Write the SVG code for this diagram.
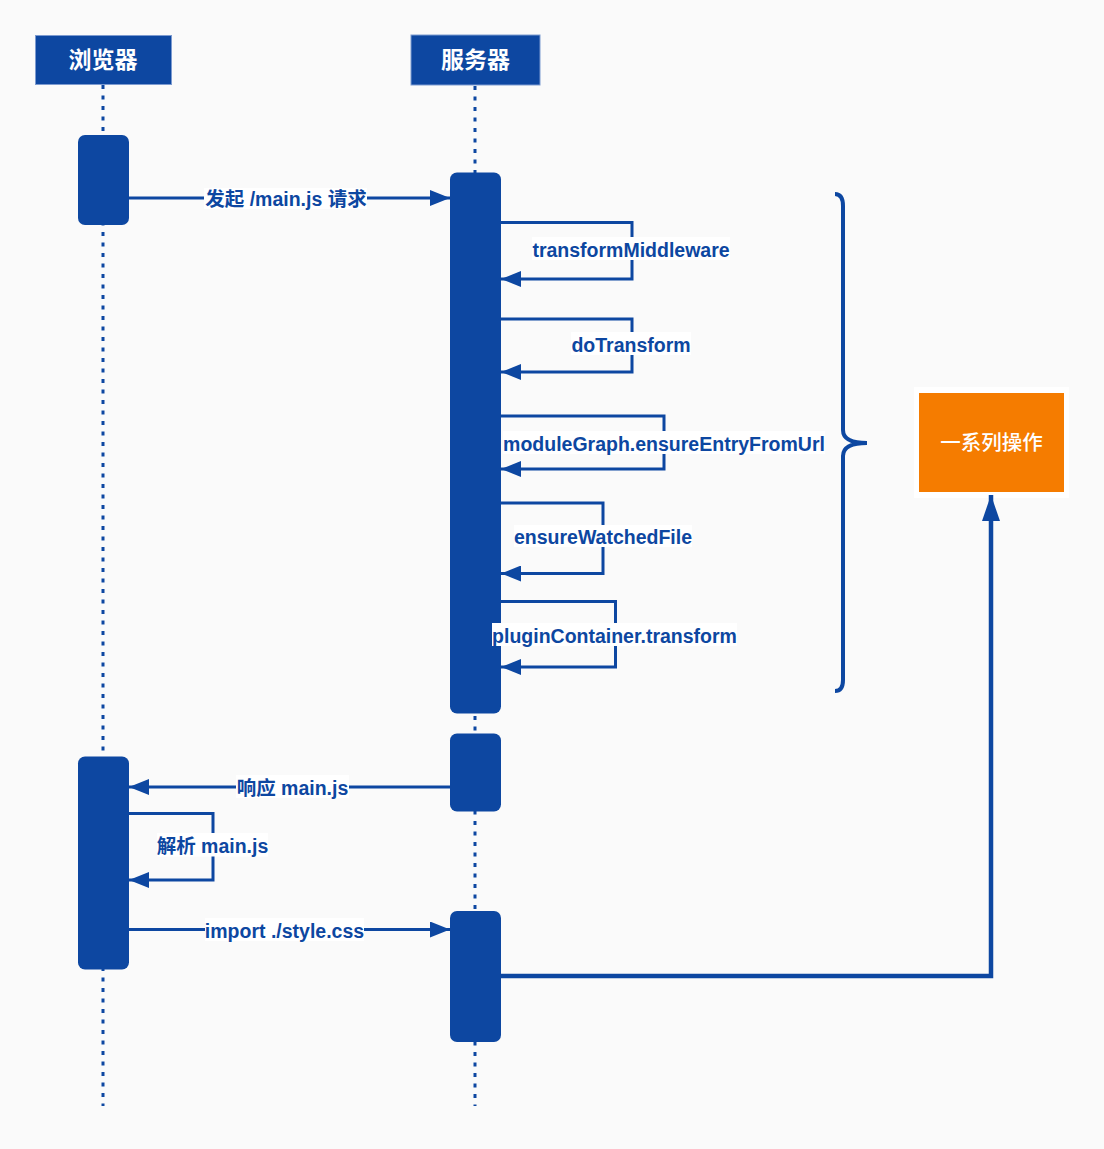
<svg xmlns="http://www.w3.org/2000/svg" width="1104" height="1149" viewBox="0 0 1104 1149">
<defs>
<marker id="ah" viewBox="0 0 20 16" refX="20" refY="8" markerWidth="20" markerHeight="16" markerUnits="userSpaceOnUse" orient="auto"><path d="M0,0 L20,8 L0,16 z" fill="#0d47a1"/></marker>
<marker id="ah2" viewBox="0 0 26 18" refX="26" refY="9" markerWidth="26" markerHeight="18" markerUnits="userSpaceOnUse" orient="auto"><path d="M0,0 L26,9 L0,18 z" fill="#0d47a1"/></marker>
</defs>
<style>
.hdr{fill:#0d47a1;stroke:#7d9bd0;stroke-width:1}
.hdrt{fill:#ffffff;font-family:"Liberation Sans","Noto Sans CJK SC",sans-serif;font-weight:bold;font-size:23px;text-anchor:middle}
.life{stroke:#0d47a1;stroke-width:3;stroke-dasharray:4 6.5;fill:none}
.act{fill:#0d47a1}
.ln{stroke:#0d47a1;stroke-width:3;fill:none}
.lbg{fill:#ffffff}
.lbl{fill:#0d47a1;font-family:"Liberation Sans","Noto Sans CJK SC",sans-serif;font-weight:bold;font-size:19.5px;text-anchor:middle}
</style>
<rect x="0" y="0" width="1104" height="1149" fill="#fafafa"/>
<g id="lifelines">
<line class="life" x1="103" y1="85" x2="103" y2="1106"/>
<line class="life" x1="475" y1="86" x2="475" y2="1106"/>
</g>
<g id="browser-header"><rect class="hdr" x="35.5" y="35.5" width="136" height="49"/><text class="hdrt" x="103" y="68">浏览器</text></g>
<g id="server-header"><rect class="hdr" x="411" y="35" width="129" height="50"/><text class="hdrt" x="475.5" y="68">服务器</text></g>
<g id="browser-act1"><rect class="act" x="78" y="135" width="51" height="90" rx="7"/></g>
<g id="server-act1"><rect class="act" x="450" y="172.5" width="51" height="541" rx="7"/></g>
<g id="server-act2"><rect class="act" x="450" y="733.5" width="51" height="78" rx="7"/></g>
<g id="browser-act2"><rect class="act" x="78" y="756.5" width="51" height="213" rx="7"/></g>
<g id="server-act3"><rect class="act" x="450" y="911" width="51" height="131" rx="7"/></g>
<g id="brace"><path d="M835,194 Q843,194 843,206 L843,430 Q843,443 867,443 Q843,443 843,456 L843,680 Q843,691 835,691" fill="none" stroke="#0d47a1" stroke-width="4"/></g>
<g id="ops-box"><rect x="914" y="387" width="155" height="111" fill="#ffffff"/><rect x="919" y="393" width="145" height="99" fill="#f57c00"/><text x="991.5" y="450" fill="#ffffff" font-family="'Noto Sans CJK SC',sans-serif" font-weight="500" font-size="20.5px" text-anchor="middle">一系列操作</text></g>
<g id="connectors">
<line class="ln" x1="129" y1="198" x2="450" y2="198" marker-end="url(#ah)"/>
<path class="ln" d="M501,222.5 H632 V279 H501" marker-end="url(#ah)"/>
<path class="ln" d="M501,319 H632 V372 H501" marker-end="url(#ah)"/>
<path class="ln" d="M501,416 H664 V469 H501" marker-end="url(#ah)"/>
<path class="ln" d="M501,503 H603 V573.5 H501" marker-end="url(#ah)"/>
<path class="ln" d="M501,601.5 H615.5 V667 H501" marker-end="url(#ah)"/>
<line class="ln" x1="450" y1="787" x2="129" y2="787" marker-end="url(#ah)"/>
<path class="ln" d="M129,813.5 H213 V880 H129" marker-end="url(#ah)"/>
<line class="ln" x1="129" y1="929.5" x2="450" y2="929.5" marker-end="url(#ah)"/>
<path d="M501,976 H991 V495" fill="none" stroke="#0d47a1" stroke-width="4.5" marker-end="url(#ah2)"/>
<g id="labels">
<rect class="lbg" x="204" y="188" width="163" height="21"/><text class="lbl" x="286" y="206">发起 /main.js 请求</text>
<rect class="lbg" x="532" y="237" width="198" height="23"/><text class="lbl" x="631" y="257">transformMiddleware</text>
<rect class="lbg" x="571" y="332" width="120" height="23"/><text class="lbl" x="631" y="351.5">doTransform</text>
<rect class="lbg" x="503" y="431" width="322" height="23"/><text class="lbl" x="664" y="451">moduleGraph.ensureEntryFromUrl</text>
<rect class="lbg" x="514" y="525" width="178" height="22"/><text class="lbl" x="603" y="544">ensureWatchedFile</text>
<rect class="lbg" x="492" y="623" width="245" height="23"/><text class="lbl" x="614.5" y="643">pluginContainer.transform</text>
<rect class="lbg" x="236" y="775" width="113" height="23"/><text class="lbl" x="292.5" y="795">响应 main.js</text>
<rect class="lbg" x="157" y="833" width="111" height="23.5"/><text class="lbl" x="212.5" y="853">解析 main.js</text>
<rect class="lbg" x="205" y="918" width="159" height="23"/><text class="lbl" x="284.5" y="938">import ./style.css</text>
</g>
</g>
</svg>
